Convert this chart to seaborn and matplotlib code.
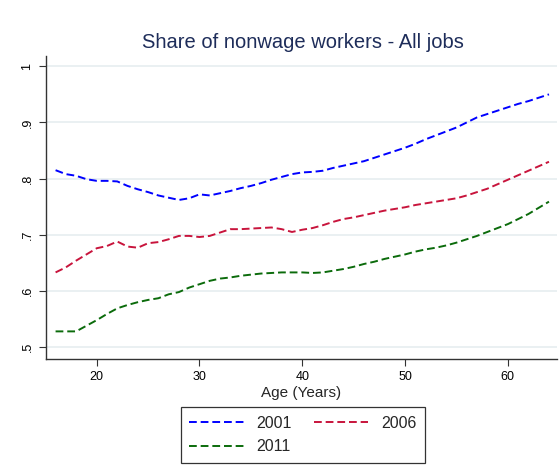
import pandas as pd
import numpy as np
import matplotlib
matplotlib.use("Agg")
import matplotlib.pyplot as plt
import seaborn as sns

# ages 16..64
ages = list(range(16, 65))

share_2001 = [.815, .808, .805, .799, .796, .796, .795, .787, .781, .776,
              .770, .766, .762, .765, .772, .770, .774, .778, .783, .787,
              .792, .798, .803, .808, .811, .812, .814, .819, .823, .827,
              .831, .837, .843, .849, .855, .862, .870, .877, .884, .891,
              .900, .909, .915, .921, .927, .933, .938, .944, .950]

share_2006 = [.633, .642, .654, .665, .676, .680, .688, .679, .677, .685,
              .687, .692, .698, .698, .696, .698, .704, .710, .710, .711,
              .712, .713, .710, .705, .709, .712, .717, .723, .728, .731,
              .735, .739, .743, .746, .749, .753, .756, .759, .762, .765,
              .770, .776, .782, .790, .798, .806, .814, .822, .830]

share_2011 = [.528, .528, .528, .538, .548, .559, .569, .575, .580, .584,
              .587, .594, .598, .606, .612, .618, .622, .624, .627, .629,
              .631, .632, .633, .633, .633, .632, .633, .636, .639, .643,
              .648, .652, .657, .661, .665, .670, .674, .677, .681, .686,
              .692, .698, .705, .712, .719, .728, .737, .748, .759]

years = ["2001", "2006", "2011"]
colors = ["#0000ff", "#c8143c", "#0b6b0b"]

df = pd.DataFrame({
    "age": ages * 3,
    "share": share_2001 + share_2006 + share_2011,
    "year": [y for y in years for _ in ages],
})

sns.set_style("white")
plt.rcParams["font.family"] = ["Liberation Sans", "DejaVu Sans"]

fig = plt.figure(figsize=(5.6, 4.76), dpi=100)
ax = fig.add_axes([0.082, 0.246, 0.913, 0.636])

sns.lineplot(data=df, x="age", y="share", hue="year", palette=colors,
             ax=ax, linewidth=1.4, legend=False)
for ln in ax.lines:
    ln.set_dashes((4, 2))

ax.set_xlim(15.06, 64.8)
ax.set_ylim(0.479, 1.018)
ax.set_yticks([0.5, 0.6, 0.7, 0.8, 0.9, 1.0])
ax.set_yticklabels([".5", ".6", ".7", ".8", ".9", "1"], rotation=90, va="center")
ax.set_xticks([20, 30, 40, 50, 60])
ax.yaxis.grid(True, color="#e6eef0", linewidth=1.2)
ax.set_axisbelow(True)
for s in ["top", "right"]:
    ax.spines[s].set_visible(False)
for s in ["left", "bottom"]:
    ax.spines[s].set_color("#333333")
    ax.spines[s].set_linewidth(1.0)
ax.tick_params(axis="both", direction="out", length=5, width=0.8,
               labelsize=9, colors="#333333", labelcolor="black", pad=4,
               left=True, bottom=True)
ax.set_xlabel("Age (Years)", fontsize=11, labelpad=2)
ax.set_ylabel("")

fig.text(0.541, 0.91, "Share of nonwage workers - All jobs",
         ha="center", va="center", fontsize=14.5, color="#1e2d5a")

# legend rows: 2001 2006 / 2011 (matplotlib fills by column)
handles = [plt.Line2D([], [], color=c, linewidth=1.4, dashes=(4, 2)) for c in colors]
order = [0, 2, 1]
leg = fig.legend([handles[i] for i in order], [years[i] for i in order],
                 loc="center", bbox_to_anchor=(0.541, 0.086),
                 ncol=2, frameon=True, fancybox=False, fontsize=11.5,
                 handlelength=3.4, columnspacing=1.4, borderpad=0.55,
                 labelspacing=0.55, handletextpad=0.8)
leg.get_frame().set_edgecolor("black")
leg.get_frame().set_linewidth(0.9)

fig.savefig("out.png", dpi=100, facecolor="white")
